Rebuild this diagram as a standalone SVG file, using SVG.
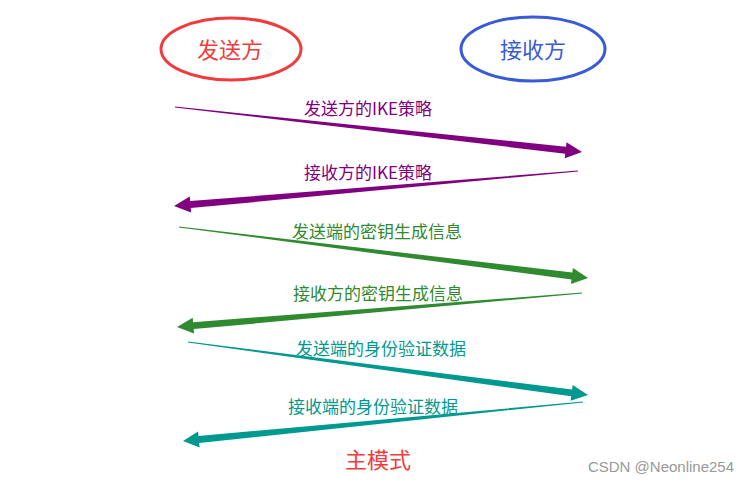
<svg xmlns="http://www.w3.org/2000/svg" width="754" height="483" viewBox="0 0 754 483">
<style>
.lbl{font-family:"Microsoft YaHei","Noto Sans CJK SC",sans-serif;font-size:17px;text-anchor:middle}
.big{font-family:"Microsoft YaHei","Noto Sans CJK SC",sans-serif;font-size:22px;text-anchor:middle}
.p{fill:#800080}.g{fill:#2f8a30}.t{fill:#009990}
</style>
<rect width="754" height="483" fill="#fff"/>
<g id="sender">
<ellipse cx="231" cy="49" rx="70" ry="31" fill="none" stroke="#f03c3c" stroke-width="3"/>
<text class="big" x="230" y="58" fill="#f03c3c">发送方</text>
</g>
<g id="receiver">
<ellipse cx="533" cy="49" rx="72" ry="32" fill="none" stroke="#3a5bd6" stroke-width="3"/>
<text class="big" x="533" y="58" fill="#3a5bd6">接收方</text>
</g>
<g id="connectors">
<polygon class="p" transform="translate(175,107) rotate(6.31)" points="0,-0.4 393,-3.5 393,-8 409.5,0 393,8 393,3.5 0,0.4"/>
<polygon class="p" transform="translate(578,171) rotate(175.05)" points="0,-0.4 389,-3.5 389,-8 405.5,0 389,8 389,3.5 0,0.4"/>
<polygon class="g" transform="translate(179,227) rotate(7.11)" points="0,-0.4 396,-3.5 396,-8 412.2,0 396,8 396,3.5 0,0.4"/>
<polygon class="g" transform="translate(582,293) rotate(175.2)" points="0,-0.4 390,-3.5 390,-8 406.4,0 390,8 390,3.5 0,0.4"/>
<polygon class="t" transform="translate(188,342) rotate(7.55)" points="0,-0.4 387,-3.5 387,-8 403.5,0 387,8 387,3.5 0,0.4"/>
<polygon class="t" transform="translate(583,402) rotate(174.43)" points="0,-0.4 386,-3.5 386,-8 401.9,0 386,8 386,3.5 0,0.4"/>
</g>
<g id="labels">
<text class="lbl p" x="368" y="115">发送方的IKE策略</text>
<text class="lbl p" x="368" y="179">接收方的IKE策略</text>
<text class="lbl g" x="377" y="238">发送端的密钥生成信息</text>
<text class="lbl g" x="378" y="300">接收方的密钥生成信息</text>
<text class="lbl t" x="381" y="355">发送端的身份验证数据</text>
<text class="lbl t" x="373" y="413">接收端的身份验证数据</text>
<text class="big" x="378" y="468" fill="#f03c3c">主模式</text>
</g>
<text x="661" y="472" font-family="Liberation Sans,Arial,sans-serif" font-size="15" fill="#999" text-anchor="middle">CSDN @Neonline254</text>
</svg>
